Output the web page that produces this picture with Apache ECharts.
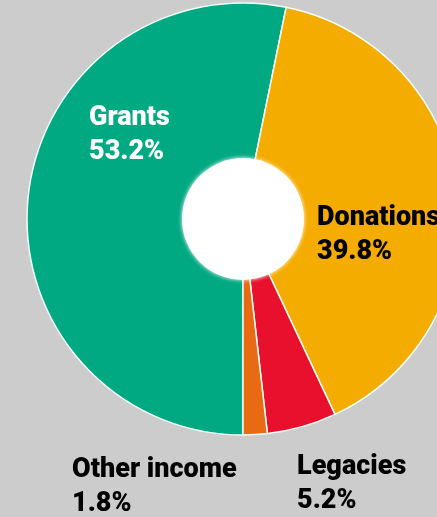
<!DOCTYPE html>
<html>
<head>
<meta charset="utf-8">
<script src="https://cdn.jsdelivr.net/npm/echarts@6/dist/echarts.min.js"></script>
<style>
html,body{margin:0;padding:0;background:#cccccc;}
#chart{width:437px;height:517px;}
</style>
</head>
<body>
<div id="chart"></div>
<script>
const categories = ['Grants', 'Donations', 'Legacies', 'Other income'];
const values = [53.2, 39.8, 5.2, 1.8];
const colors = ['#00a982', '#f5ac00', '#e8102c', '#e86a12'];
const labelColors = ['#ffffff', '#000000', '#000000', '#000000'];
const labelPos = [[89, 101], [317, 201], [297, 450], [72, 453]];

const chart = echarts.init(document.getElementById('chart'), null, {renderer: 'canvas'});
const cx = 243, cy = 219;
chart.setOption({
  backgroundColor: '#cccccc',
  animation: false,
  series: [{
    type: 'pie',
    center: [cx, cy],
    radius: [0, 216],
    startAngle: 270,
    clockwise: true,
    label: {show: false},
    labelLine: {show: false},
    itemStyle: {borderColor: '#f2fff8', borderWidth: 1.5},
    data: categories.map((c, i) => ({name: c, value: values[i], itemStyle: {color: colors[i]}}))
  }],
  graphic: [
    {type: 'circle', shape: {cx: cx, cy: cy, r: 61}, style: {fill: '#ffffff', shadowBlur: 4, shadowColor: '#ffffff'}, z: 10}
  ].concat(categories.map((c, i) => ({
    type: 'text', x: labelPos[i][0], y: labelPos[i][1], z: 20,
    style: {
      text: c + '\n' + values[i].toFixed(1) + '%',
      fill: labelColors[i],
      font: '900 27px Roboto',
      lineHeight: 34,
      textAlign: 'left',
      textVerticalAlign: 'top'
    }
  })))
});
</script>
</body>
</html>
